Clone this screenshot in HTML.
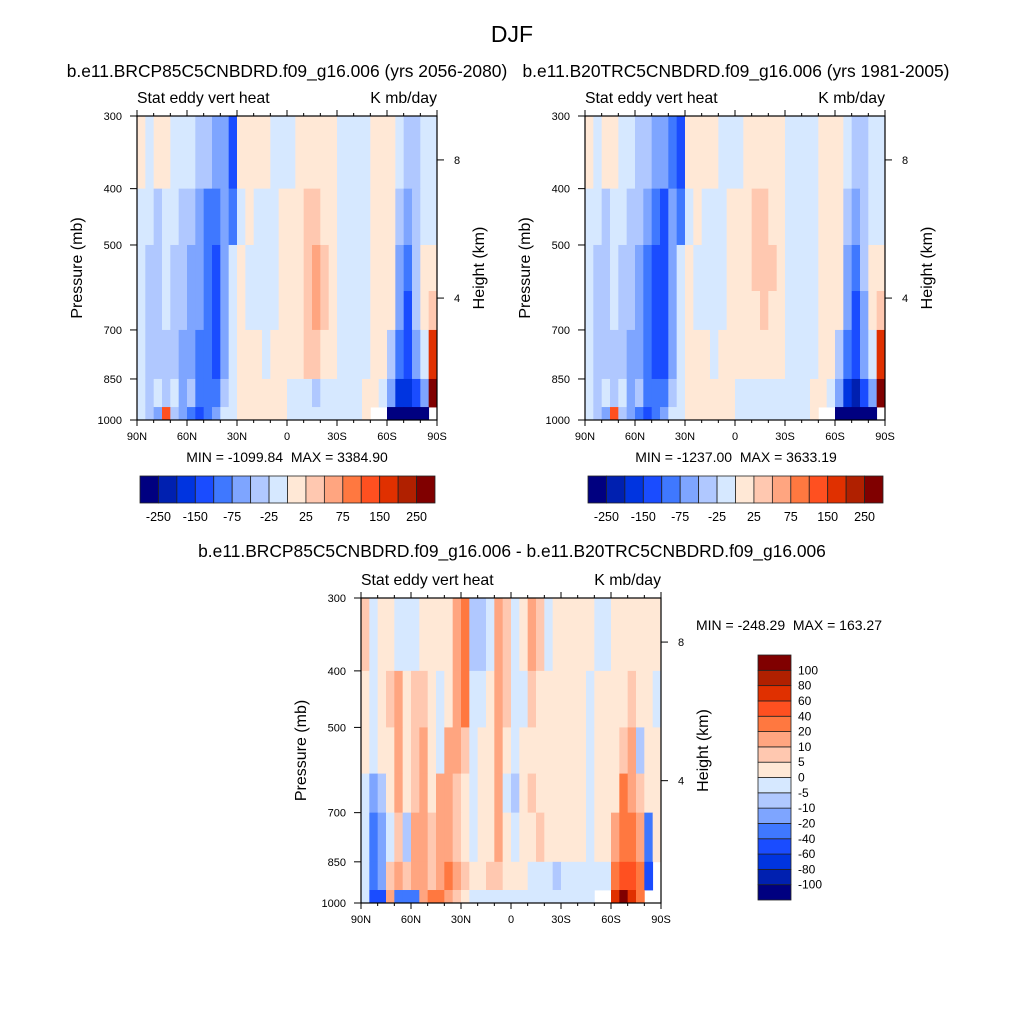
<!DOCTYPE html>
<html><head><meta charset="utf-8">
<style>
html,body{margin:0;padding:0;background:#fff;}
svg{display:block;font-family:"Liberation Sans",sans-serif;}
</style></head>
<body>
<svg id="fig" width="1024" height="1024" viewBox="0 0 1024 1024" xmlns="http://www.w3.org/2000/svg">
<text x="512" y="42" font-size="23" text-anchor="middle">DJF</text>
<g id="root"></g>
</svg>
<script>
// ---- data ----
const latEdges = [90,85,80,75,70,65,60,55,50,45,40,35,30,25,20,15,10,5,0,-5,-10,-15,-20,-25,-30,-35,-40,-45,-50,-55,-60,-65,-70,-75,-80,-85,-90];
const presEdges = [300,400,500,600,700,850,950,1000];
const levelsAbs = [-250,-200,-150,-100,-75,-50,-25,0,25,50,75,100,150,200,250];
const levelsDiff = [-100,-80,-60,-40,-20,-10,-5,0,5,10,20,40,60,80,100];
const cbLabelsAbs = ["-250","-150","-75","-25","25","75","150","250"];
const cbLabelsDiff = ["100","80","60","40","20","10","5","0","-5","-10","-20","-40","-60","-80","-100"];
const xTickLabels = ["90N","60N","30N","0","30S","60S","90S"];
const xTickLats = [90,60,30,0,-30,-60,-90];
const pTicks = [300,400,500,700,850,1000];
const hTicks = [8,4];
const hTickPres = [357,617];
const colors = ["#000080","#0020b0","#0034e0","#1a4cff","#3f78ff","#7ea5ff","#b0c8ff","#d6e8ff","#ffe8d6","#ffc8b0","#ffa580","#ff7840","#ff5020","#e03000","#b02000","#800000"];
const N = null;
const panel1 = [
[10,-10,10,10,-10,-10,-10,-30,-30,-60,-60,-150,10,10,10,10,-10,-10,-10,10,10,10,10,10,-10,-10,-10,-10,10,10,10,-10,-30,-30,-10,-10],
[-10,-10,-30,-10,-10,-30,-30,-60,-100,-100,-60,-100,-10,10,-10,-10,-10,10,10,10,30,30,10,10,-10,-10,-10,-10,10,10,10,-30,-60,-30,-10,-10],
[-10,-30,-30,-10,-30,-30,-60,-60,-100,-150,-60,-10,10,-10,-10,-10,-10,10,10,10,30,60,30,10,-10,-10,-10,-10,10,10,10,-60,-100,-30,10,10],
[-10,-30,-30,-10,-30,-30,-60,-60,-100,-150,-60,-10,10,-10,-10,-10,-10,10,10,10,30,60,30,10,-10,-10,-10,-10,10,10,10,-60,-150,-30,10,30],
[-10,-30,-30,-30,-30,-60,-60,-100,-100,-150,-60,-10,10,10,10,-10,10,10,10,10,30,30,10,10,-10,-10,-10,-10,10,10,-30,-100,-150,-60,-10,150],
[-10,-30,-10,-30,-10,-60,-30,-100,-100,-100,-30,-10,10,10,10,10,10,10,-10,-10,-10,-30,-10,-10,-10,-10,-10,10,10,-10,-60,-200,-200,-150,-60,300],
[-10,-30,-60,100,-30,-60,-100,-150,-100,-60,-10,-10,10,10,10,10,10,10,-10,-10,-10,-10,-10,-10,-10,-10,-10,10,N,N,-300,-300,-300,-300,-300,N]
];
const panel2 = [
[10,-10,10,10,-10,-10,-30,-30,-60,-60,-100,-150,10,10,10,10,-10,-10,-10,10,10,10,10,10,-10,-10,-10,-10,10,10,10,-10,-30,-30,-10,-10],
[-10,-10,-30,-10,-10,-30,-30,-60,-100,-150,-60,-100,-10,10,-10,-10,-10,10,10,10,30,30,10,10,-10,-10,-10,-10,10,10,10,-30,-60,-30,-10,-10],
[-10,-30,-30,-10,-30,-30,-60,-100,-150,-150,-60,-10,10,-10,-10,-10,-10,10,10,10,30,30,30,10,-10,-10,-10,-10,10,10,10,-60,-100,-30,10,10],
[-10,-30,-30,-10,-30,-30,-60,-100,-150,-150,-60,-10,10,-10,-10,-10,-10,10,10,10,10,30,10,10,-10,-10,-10,-10,10,10,10,-60,-150,-60,10,30],
[-10,-30,-30,-30,-30,-60,-60,-100,-150,-150,-60,-10,10,10,10,-10,10,10,10,10,10,10,10,10,-10,-10,-10,-10,10,10,-30,-100,-150,-60,-10,150],
[-10,-30,-10,-30,-10,-60,-30,-100,-100,-100,-30,-10,10,10,10,10,10,10,-10,-10,-10,-10,-10,-10,-10,-10,-10,10,10,-10,-60,-200,-250,-150,-60,300],
[-10,-30,-60,100,-30,-60,-100,-150,-100,-60,-10,-10,10,10,10,10,10,10,-10,-10,-10,-10,-10,-10,-10,-10,-10,10,N,N,-300,-300,-300,-300,-300,N]
];
const panel3 = [
[5,-3,3,3,-3,-3,-3,3,3,3,3,15,30,-8,-8,-3,15,7,-3,3,15,7,-3,3,3,3,3,3,-3,-3,3,3,3,3,3,3],
[3,-3,3,7,15,3,7,7,3,-3,3,15,30,-3,-3,3,15,7,-3,-3,7,3,3,3,3,3,3,-3,3,3,3,3,7,3,3,-3],
[3,-3,3,3,15,3,7,15,3,-3,15,15,7,-3,3,3,15,3,-3,3,3,3,3,3,3,3,3,-3,3,3,3,7,15,-8,3,3],
[-3,-15,-8,3,15,3,7,15,3,15,15,7,3,-3,3,3,15,-3,-8,3,7,3,3,3,3,3,3,-3,3,3,3,30,15,7,3,3],
[-3,-30,-15,-3,7,-8,15,15,7,15,15,7,3,-3,3,3,15,3,-3,3,3,7,3,3,3,3,3,-3,3,3,15,30,30,15,-30,3],
[-3,-30,-15,7,15,7,15,15,7,15,30,15,7,3,3,7,7,3,3,3,-3,-3,-3,-8,-3,-3,-3,-3,-3,-3,30,50,40,20,-50,N],
[-3,-60,-60,15,-30,-30,-30,15,30,30,15,7,3,-3,-3,-3,-3,-3,-3,-3,-3,-3,-3,-3,-3,-3,-3,-3,N,N,70,110,70,30,N,N]
];

// ---- helpers ----
const NS="http://www.w3.org/2000/svg";
const root=document.getElementById('root');
function mk(tag,attrs,parent,text){const e=document.createElementNS(NS,tag);for(const k in attrs)e.setAttribute(k,attrs[k]);if(text!==undefined)e.textContent=text;(parent||root).appendChild(e);return e;}
function colorIdx(v,levels){let i=0;for(const l of levels)if(v>=l)i++;return i;}

function drawPanel(ox,oy,W,H,vals,levels,name,p){
  const g=mk('g',{});
  
  
  const xs=lat=>ox+(90-lat)/180*W;
  const lp0=Math.log(300),lp1=Math.log(1000);
  const ys=pr=>oy+(Math.log(pr)-lp0)/(lp1-lp0)*H;
  for(let r=0;r<vals.length;r++){
    for(let c=0;c<vals[r].length;c++){
      const v=vals[r][c]; if(v===null)continue;
      const x0=xs(latEdges[c]),x1=xs(latEdges[c+1]);
      const y0=ys(presEdges[r]),y1=ys(presEdges[r+1]);
      const rc=mk('rect',{x:x0.toFixed(2),y:y0.toFixed(2),width:(x1-x0+0.4).toFixed(2),height:(y1-y0+0.4).toFixed(2),fill:colors[colorIdx(v,levels)]},g);
      
      
    }
  }
  const fr=mk('rect',{x:ox,y:oy,width:W,height:H,fill:'none',stroke:'#000','stroke-width':1.2},g);
  
  
  for(let lat=90;lat>=-90;lat-=10){
    const x=xs(lat);const major=lat%30===0;const L=major?6:3;
    mk('line',{x1:x,x2:x,y1:oy+H,y2:oy+H+L,stroke:'#000','stroke-width':1},g);
    mk('line',{x1:x,x2:x,y1:oy,y2:oy-L,stroke:'#000','stroke-width':1},g);
  }
  xTickLabels.forEach((t,i)=>{
    const tx=mk('text',{x:xs(xTickLats[i]),y:oy+H+20,'font-size':11,'text-anchor':'middle'},g,t);
    
    
  });
  pTicks.forEach(pv=>{
    const y=ys(pv);
    mk('line',{x1:ox-7,x2:ox,y1:y,y2:y,stroke:'#000','stroke-width':1},g);
    const tx=mk('text',{x:ox-15,y:y+4,'font-size':11,'text-anchor':'end'},g,String(pv));
    
    
  });
  hTicks.forEach((h,i)=>{
    const y=ys(hTickPres[i]);
    mk('line',{x1:ox+W,x2:ox+W+7,y1:y,y2:y,stroke:'#000','stroke-width':1},g);
    const tx=mk('text',{x:ox+W+17,y:y+4,'font-size':11},g,String(h));
    
    
  });
  const yl=mk('text',{x:0,y:0,'font-size':16,'text-anchor':'middle',transform:`translate(${ox-55},${oy+H/2}) rotate(-90)`},g,'Pressure (mb)');
  
  
  const hl=mk('text',{x:0,y:0,'font-size':16,'text-anchor':'middle',transform:`translate(${ox+W+47},${oy+H/2}) rotate(-90)`},g,'Height (km)');
  
  
  const ls=mk('text',{x:ox,y:oy-13,'font-size':15.8},g,'Stat eddy vert heat');
  
  
  const rs=mk('text',{x:ox+W,y:oy-13,'font-size':15.8,'text-anchor':'end'},g,'K mb/day');
  
  
  const tt=mk('text',{x:p.tx,y:p.ty,'font-size':17.4,'text-anchor':'middle'},g,p.title);
  
  
  const mm=mk('text',{x:p.mx,y:p.my,'font-size':14,'text-anchor':'middle'},g,p.minmax);
  
  
}

function hColorbar(x,y,w,h){
  const g=mk('g',{});
  
  
  const bw=w/colors.length;
  colors.forEach((c,i)=>{
    const r=mk('rect',{x:x+i*bw,y:y,width:bw,height:h,fill:c,stroke:'#222','stroke-width':0.8},g);
    
    
  });
  cbLabelsAbs.forEach((t,i)=>{
    const tx=mk('text',{x:x+(2*i+1)*bw,y:y+h+18,'font-size':12.5,'text-anchor':'middle'},g,t);
    
    
  });
}
function vColorbar(x,y,w,h){
  const g=mk('g',{});
  
  
  const bh=h/colors.length;
  colors.forEach((c,i)=>{
    const r=mk('rect',{x:x,y:y+h-(i+1)*bh,width:w,height:bh,fill:c,stroke:'#222','stroke-width':0.8},g);
    
    
  });
  cbLabelsDiff.forEach((t,i)=>{
    const tx=mk('text',{x:x+w+7,y:y+(i+1)*bh+4,'font-size':12},g,t);
    
    
  });
}

const SP='\u00a0\u00a0';
drawPanel(137,116,300,304,panel1,levelsAbs,'panel-future',{tx:287,ty:77,title:'b.e11.BRCP85C5CNBDRD.f09_g16.006 (yrs 2056-2080)',mx:287,my:462,minmax:'MIN = -1099.84'+SP+'MAX = 3384.90'});
hColorbar(140,476,295,27);
drawPanel(585,116,300,304,panel2,levelsAbs,'panel-historical',{tx:736,ty:77,title:'b.e11.B20TRC5CNBDRD.f09_g16.006 (yrs 1981-2005)',mx:736,my:462,minmax:'MIN = -1237.00'+SP+'MAX = 3633.19'});
hColorbar(588,476,295,27);
drawPanel(361,598,300,305,panel3,levelsDiff,'panel-difference',{tx:512,ty:557,title:'b.e11.BRCP85C5CNBDRD.f09_g16.006 - b.e11.B20TRC5CNBDRD.f09_g16.006',mx:789,my:630,minmax:'MIN = -248.29'+SP+'MAX = 163.27'});
vColorbar(758,655,33,245);
</script>
</body></html>
